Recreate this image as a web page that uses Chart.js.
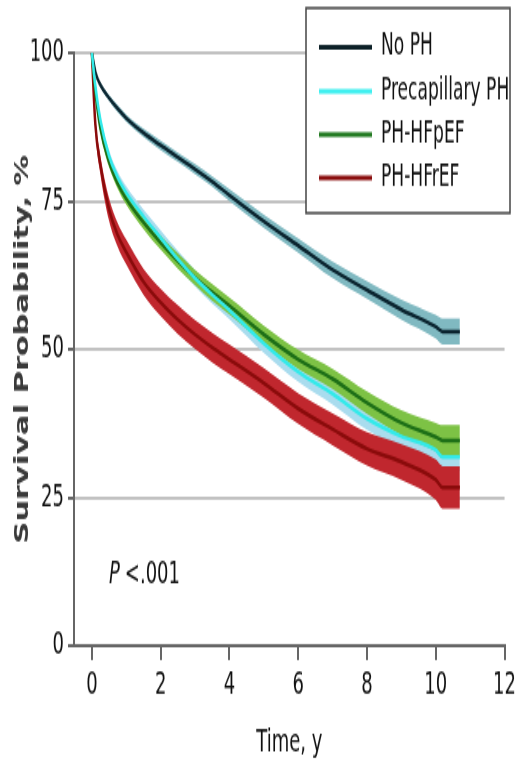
<!DOCTYPE html>
<html>
<head>
<meta charset="utf-8">
<script src="https://cdn.jsdelivr.net/npm/chart.js@4.4.1/dist/chart.umd.min.js"></script>
<style>
  html, body { margin: 0; padding: 0; background: #fff; }
  canvas { display: block; }
</style>
</head>
<body>
<!-- drawn at 520x480 and shown stretched to 769 tall, like the reference -->
<canvas id="km" width="520" height="480" style="width:520px;height:769px"></canvas>
<script>
const years = [0, 0.1, 0.25, 0.5, 0.75, 1, 1.5, 2, 2.5, 3, 3.5, 4, 5, 6, 7, 8, 9, 10, 10.2, 10.7];

const noPH      = [100, 96.8, 94.6, 92.4, 90.6, 89.0, 86.5, 84.4, 82.4, 80.4, 78.3, 76.0, 71.6, 67.5, 63.4, 60.0, 56.7, 53.8, 53.0, 53.0];
const noPHHigh  = [100, 97.1, 95.0, 92.9, 91.2, 89.6, 87.2, 85.2, 83.2, 81.3, 79.2, 77.0, 72.7, 68.7, 64.8, 61.5, 58.4, 55.8, 55.2, 55.2];
const noPHLow   = [100, 96.5, 94.2, 91.9, 90.0, 88.4, 85.8, 83.6, 81.6, 79.5, 77.4, 75.0, 70.5, 66.3, 62.0, 58.5, 55.0, 51.8, 50.8, 50.8];

const precap     = [100, 94.5, 88.6, 82.6, 79.0, 76.4, 72.4, 68.8, 65.2, 62.0, 59.2, 56.6, 51.0, 46.2, 42.5, 38.3, 35.3, 33.0, 31.8, 31.8];
const precapHigh = [100, 95.1, 89.4, 83.6, 80.0, 77.5, 73.6, 70.1, 66.6, 63.4, 60.7, 58.1, 52.6, 47.9, 44.3, 40.2, 37.3, 35.2, 34.1, 34.1];
const precapLow  = [100, 93.9, 87.8, 81.6, 78.0, 75.3, 71.2, 67.5, 63.8, 60.6, 57.7, 55.1, 49.4, 44.5, 40.7, 36.4, 33.3, 30.8, 29.5, 29.5];

const hfpef     = [100, 93.5, 87.2, 81.6, 78.0, 75.4, 71.4, 68.0, 64.9, 62.1, 59.6, 57.3, 52.5, 48.3, 45.0, 41.0, 37.6, 35.2, 34.6, 34.6];
const hfpefHigh = [100, 94.0, 87.9, 82.4, 78.9, 76.4, 72.5, 69.2, 66.2, 63.4, 61.0, 58.7, 54.0, 49.9, 46.7, 42.9, 39.7, 37.6, 37.2, 37.2];
const hfpefLow  = [100, 93.0, 86.5, 80.8, 77.1, 74.4, 70.3, 66.8, 63.6, 60.8, 58.2, 55.9, 51.0, 46.7, 43.3, 39.1, 35.5, 32.8, 32.0, 32.0];

const hfref     = [100, 88.0, 81.0, 73.6, 69.3, 66.4, 61.4, 57.9, 55.0, 52.5, 50.3, 48.3, 44.3, 40.0, 36.5, 33.2, 31.0, 28.0, 26.7, 26.7];
const hfrefHigh = [100, 89.2, 82.6, 75.5, 71.3, 68.5, 63.6, 60.2, 57.4, 54.9, 52.8, 50.8, 46.8, 42.6, 39.2, 36.0, 34.0, 31.4, 30.3, 30.3];
const hfrefLow  = [100, 86.8, 79.4, 71.7, 67.3, 64.3, 59.2, 55.6, 52.6, 50.1, 47.8, 45.8, 41.8, 37.4, 33.8, 30.4, 28.0, 24.6, 23.1, 23.1];

const groupNames = ['No PH', 'Precapillary PH', 'PH-HFpEF', 'PH-HFrEF'];
const xTicks = [0, 2, 4, 6, 8, 10, 12];
const yTicks = [0, 25, 50, 75, 100];

const narrow = "'Liberation Sans Narrow', 'DejaVu Sans Condensed', 'Roboto Condensed', sans-serif";

const pts = arr => arr.map((v, i) => ({ x: years[i], y: v }));

function line(label, values, color) {
  return {
    label, data: pts(values), borderColor: color, borderWidth: 2.5,
    pointRadius: 0, fill: false, order: 0, cubicInterpolationMode: 'monotone'
  };
}
function bandTop(values) {
  return {
    label: '', data: pts(values), borderWidth: 0, borderColor: 'rgba(0,0,0,0)',
    pointRadius: 0, fill: false, order: 1, cubicInterpolationMode: 'monotone'
  };
}
function bandBottom(values, color) {
  return {
    label: '', data: pts(values), borderWidth: 0, borderColor: 'rgba(0,0,0,0)',
    backgroundColor: color, pointRadius: 0, fill: '-1', order: 1, cubicInterpolationMode: 'monotone'
  };
}

const lineColors = ['#0b2530', '#33eaea', '#1d6f17', '#8a0b0b'];

// first datasets are drawn on top
const datasets = [
  line(groupNames[1], precap, lineColors[1]),
  line(groupNames[2], hfpef, lineColors[2]),
  line(groupNames[3], hfref, lineColors[3]),
  line(groupNames[0], noPH, lineColors[0]),
  bandTop(hfrefHigh), bandBottom(hfrefLow, '#c0272e'),
  bandTop(hfpefHigh), bandBottom(hfpefLow, '#7dc245'),
  bandTop(precapHigh), bandBottom(precapLow, '#a9dcee'),
  bandTop(noPHHigh), bandBottom(noPHLow, '#80b9c1')
];

// boxed legend, P value and the y title
const extras = {
  id: 'extras',
  afterDraw(chart) {
    const ctx = chart.ctx;
    ctx.save();
    ctx.fillStyle = '#fff';
    ctx.fillRect(306, 5, 204, 128);
    ctx.strokeStyle = '#444';
    ctx.lineWidth = 1.5;
    ctx.strokeRect(306, 5, 204, 128);

    const rows = [29.5, 57, 84, 111];
    const legendColors = ['#0d2128', '#40f0f0', '#237a22', '#8b1010'];
    ctx.font = '19px ' + narrow;
    ctx.textBaseline = 'middle';
    groupNames.forEach((name, i) => {
      ctx.strokeStyle = legendColors[i];
      ctx.lineWidth = 3;
      ctx.beginPath();
      ctx.moveTo(319, rows[i]);
      ctx.lineTo(372, rows[i]);
      ctx.stroke();
      ctx.fillStyle = '#111';
      ctx.fillText(name, 381, rows[i]);
    });

    ctx.font = 'italic 20px ' + narrow;
    ctx.fillStyle = '#111';
    ctx.fillText('P', 109, 359);
    const w = ctx.measureText('P').width;
    ctx.font = '20px ' + narrow;
    ctx.fillText('<.001', 109 + w + 5, 359);
    ctx.restore();

    ctx.save();
    ctx.translate(23, 218);
    ctx.rotate(-Math.PI / 2);
    ctx.font = 'bold 19px "DejaVu Sans"';
    ctx.fillStyle = '#3a3a3a';
    ctx.textAlign = 'center';
    ctx.textBaseline = 'middle';
    ctx.fillText('Survival Probability, %', 0, 0);
    ctx.restore();
  }
};

new Chart(document.getElementById('km').getContext('2d'), {
  type: 'line',
  data: { datasets },
  options: {
    responsive: false,
    animation: false,
    events: [],
    layout: { padding: { top: 33, right: 12, left: 0, bottom: 0 } },
    plugins: { legend: { display: false }, tooltip: { enabled: false } },
    scales: {
      x: {
        type: 'linear', min: -0.52, max: 12,
        afterBuildTicks: s => { s.ticks = xTicks.map(v => ({ value: v })); },
        afterFit: s => { s.height = 77; },
        grid: { drawOnChartArea: false, drawTicks: true, tickLength: 9, tickColor: '#666', lineWidth: 2 },
        border: { color: '#666', width: 2 },
        ticks: { color: '#111', font: { family: narrow, size: 20 }, padding: 4, maxRotation: 0 },
        title: { display: true, text: 'Time, y', color: '#111', font: { family: narrow, size: 20 }, padding: { top: 9 } }
      },
      y: {
        min: 0, max: 100,
        afterBuildTicks: s => { s.ticks = yTicks.map(v => ({ value: v })); },
        afterFit: s => { s.width = 74; },
        grid: { color: ctx => ctx.tick && ctx.tick.value === 0 ? '#666' : '#c2c2c2', lineWidth: 2, tickLength: 6, tickColor: '#666' },
        border: { color: '#666', width: 2 },
        ticks: { color: '#111', font: { family: narrow, size: 20 }, padding: 4 }
      }
    }
  },
  plugins: [extras]
});
</script>
</body>
</html>
